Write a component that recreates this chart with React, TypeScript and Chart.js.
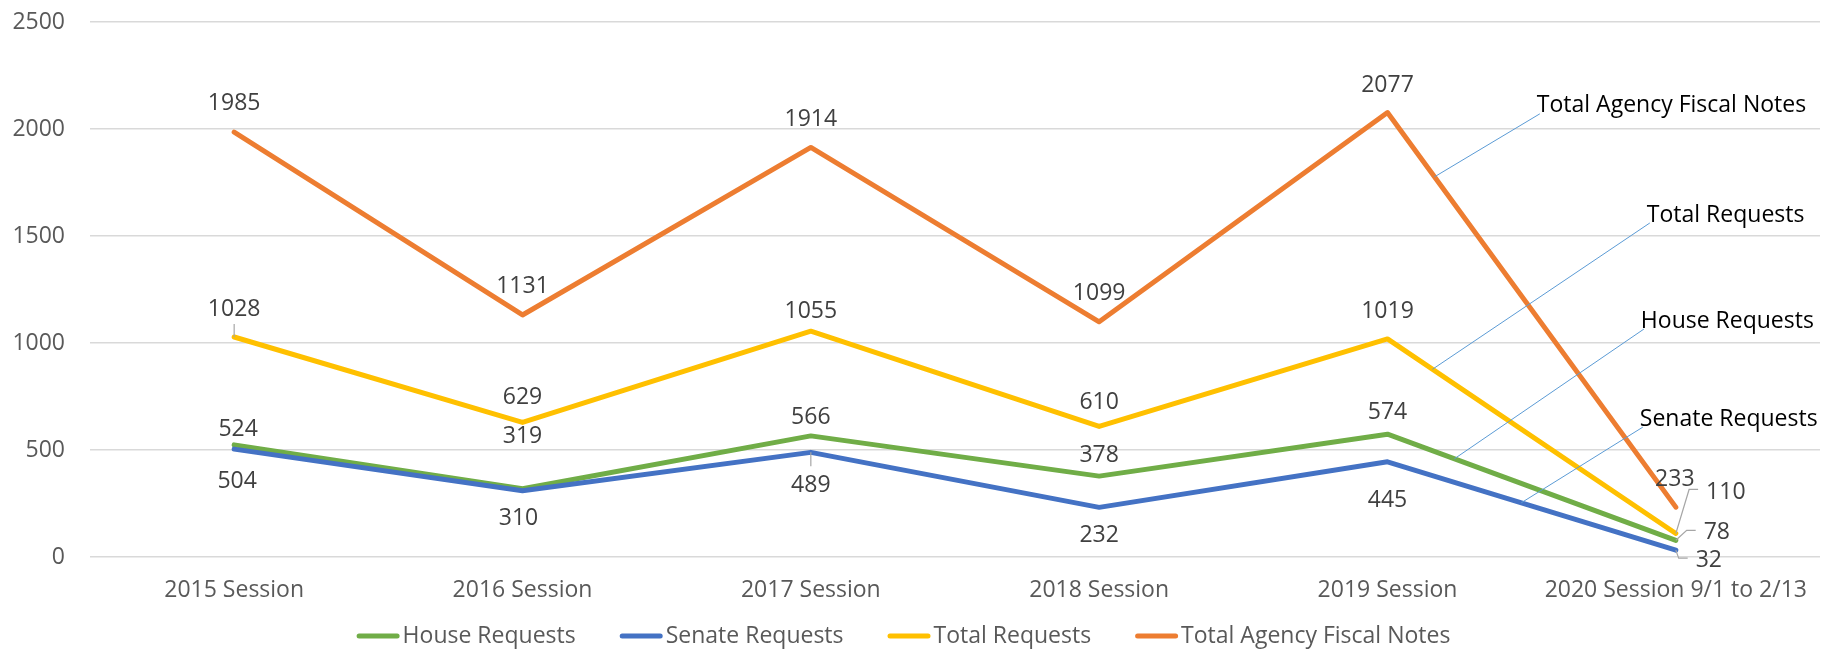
import React, { useEffect, useRef } from "react";
import { Chart, registerables } from "chart.js";

Chart.register(...registerables);

// ---- data ----
const categories = [
  "2015 Session",
  "2016 Session",
  "2017 Session",
  "2018 Session",
  "2019 Session",
  "2020 Session 9/1 to 2/13",
];
const houseRequests = [524, 319, 566, 378, 574, 78];
const senateRequests = [504, 310, 489, 232, 445, 32];
const totalRequests = [1028, 629, 1055, 610, 1019, 110];
const totalAgencyFiscalNotes = [1985, 1131, 1914, 1099, 2077, 233];
const yTicks = [0, 500, 1000, 1500, 2000, 2500];
const seriesNames = ["House Requests", "Senate Requests", "Total Requests", "Total Agency Fiscal Notes"];

// ---- styles ----
const FONT = '"Open Sans", "Liberation Sans", sans-serif';
const FS = 23;
const colors = ["#70AD47", "#4472C4", "#FFC000", "#ED7D31"];
const TEXT_SHIFT = 2.5;

// per point label offsets [dx, dy, leaderType]
const labelOffsets: [number, number, string?][][] = [
  [[4, -18], [0, -55], [0, -21], [0, -23], [0, -24], [41, -10, "elbow"]],
  [[3, 30], [-4, 25], [0, 31, "v"], [0, 26], [0, 36], [33, 8, "elbow"]],
  [[0, -30, "v"], [0, -27], [0, -22], [0, -27], [0, -30], [50, -44, "elbow"]],
  [[0, -31], [0, -31], [0, -30], [0, -31], [0, -30], [-1, -30]],
];

// series name callouts: dataset index, fraction along last segment, text dx from last category, text y value
const nameCallouts = [
  { ds: 3, t: 0.163, dx: -139, v: 2113 },
  { ds: 2, t: 0.156, dx: -29, v: 1603 },
  { ds: 0, t: 0.232, dx: -35, v: 1107 },
  { ds: 1, t: 0.464, dx: -36, v: 649 },
];

const labelsPlugin = {
  id: "customLabels",
  afterDatasetsDraw(chart: any) {
    const ctx = chart.ctx;
    ctx.save();
    ctx.font = `${FS}px ${FONT}`;
    ctx.textBaseline = "middle";
    ctx.textAlign = "center";
    const allData = [houseRequests, senateRequests, totalRequests, totalAgencyFiscalNotes];
    allData.forEach((arr, di) => {
      const meta = chart.getDatasetMeta(di);
      arr.forEach((val, i) => {
        const pt = meta.data[i];
        const [dx, dy, lt] = labelOffsets[di][i];
        const lx = pt.x + dx;
        const ly = pt.y + dy;
        const txt = String(val);
        const w = ctx.measureText(txt).width;
        if (lt) {
          ctx.strokeStyle = "#A6A6A6";
          ctx.lineWidth = 1.2;
          ctx.beginPath();
          if (lt === "v") {
            const edge = dy < 0 ? ly + 11 + 6 : ly - 11 - 6;
            ctx.moveTo(pt.x, pt.y);
            ctx.lineTo(pt.x, edge);
          } else {
            const left = lx - w / 2;
            ctx.moveTo(pt.x, pt.y);
            ctx.lineTo(left - 17, ly);
            ctx.lineTo(left - 8, ly);
          }
          ctx.stroke();
        }
        ctx.fillStyle = "#404040";
        ctx.fillText(txt, lx, ly + TEXT_SHIFT);
      });
    });

    // series name callouts
    const xs = chart.scales.x;
    const ys = chart.scales.y;
    ctx.textAlign = "left";
    nameCallouts.forEach((c) => {
      const meta = chart.getDatasetMeta(c.ds);
      const p4 = meta.data[4];
      const p5 = meta.data[5];
      const ax = p4.x + c.t * (p5.x - p4.x);
      const ay = p4.y + c.t * (p5.y - p4.y);
      const tx = xs.getPixelForValue(5) + c.dx;
      const ty = ys.getPixelForValue(c.v);
      ctx.strokeStyle = "#5B9BD5";
      ctx.lineWidth = 1;
      ctx.beginPath();
      ctx.moveTo(tx + 3, ty + 9);
      ctx.lineTo(ax, ay);
      ctx.stroke();
      ctx.fillStyle = "#000000";
      ctx.fillText(seriesNames[c.ds], tx, ty + 1);
    });
    ctx.restore();
  },
  afterDraw(chart: any) {
    const ctx = chart.ctx;
    ctx.save();
    ctx.font = `${FS}px ${FONT}`;
    ctx.textBaseline = "middle";
    ctx.textAlign = "left";
    const lineW = 43;
    const gapText = 3;
    const gapItem = 44;
    const widths = seriesNames.map((n) => ctx.measureText(n).width);
    const total = widths.reduce((a, w) => a + lineW + gapText + w, 0) + gapItem * (seriesNames.length - 1);
    let x = chart.width / 2 - 16 - total / 2;
    const y = 636;
    seriesNames.forEach((n, i) => {
      ctx.strokeStyle = colors[i];
      ctx.lineWidth = 5;
      ctx.lineCap = "round";
      ctx.beginPath();
      ctx.moveTo(x + 2.5, y);
      ctx.lineTo(x + lineW - 2.5, y);
      ctx.stroke();
      ctx.fillStyle = "#595959";
      ctx.fillText(n, x + lineW + gapText, y);
      x += lineW + gapText + widths[i] + gapItem;
    });
    ctx.restore();
  },
};

export default function App() {
  const ref = useRef<HTMLCanvasElement | null>(null);
  useEffect(() => {
    if (!ref.current) return;
    const seriesData = [houseRequests, senateRequests, totalRequests, totalAgencyFiscalNotes];
    const chart = new Chart(ref.current, {
      type: "line",
      data: {
        labels: categories,
        datasets: seriesData.map((d, i) => ({
          label: seriesNames[i],
          data: d,
          borderColor: colors[i],
          backgroundColor: colors[i],
          borderWidth: 5,
          pointRadius: 0,
          pointHoverRadius: 0,
          tension: 0,
          borderCapStyle: "round",
          borderJoinStyle: "round",
          fill: false,
          order: 3 - i,
        })),
      },
      options: {
        animation: false,
        responsive: false,
        devicePixelRatio: 1,
        layout: { padding: { top: 22, right: 19, bottom: 0, left: 0 } },
        plugins: {
          legend: { display: false },
          tooltip: { enabled: false },
        },
        scales: {
          x: {
            type: "category",
            offset: true,
            grid: { display: false, drawTicks: false },
            border: { display: false },
            ticks: {
              color: "#595959",
              font: { family: FONT, size: FS },
              padding: 20,
              maxRotation: 0,
              autoSkip: false,
            },
            afterFit: (s: any) => {
              s.height = 94;
            },
          },
          y: {
            min: 0,
            max: 2500,
            grid: { color: "#D9D9D9", lineWidth: 1.5, drawTicks: false },
            border: { display: false },
            ticks: {
              color: "#595959",
              font: { family: FONT, size: FS },
              padding: 25,
              callback: (v: any) => String(v),
            },
            afterBuildTicks: (s: any) => {
              s.ticks = yTicks.map((v) => ({ value: v }));
            },
            afterFit: (s: any) => {
              s.width = 90;
              s.paddingTop = 0;
              s.paddingBottom = 0;
            },
          },
        },
      },
      plugins: [labelsPlugin],
    } as any);
    return () => chart.destroy();
  }, []);
  return (
    <div style={{ position: "fixed", left: 0, top: 0, width: 1839, height: 651, background: "#fff" }}>
      <canvas ref={ref} width={1839} height={651} style={{ display: "block" }} />
    </div>
  );
}
